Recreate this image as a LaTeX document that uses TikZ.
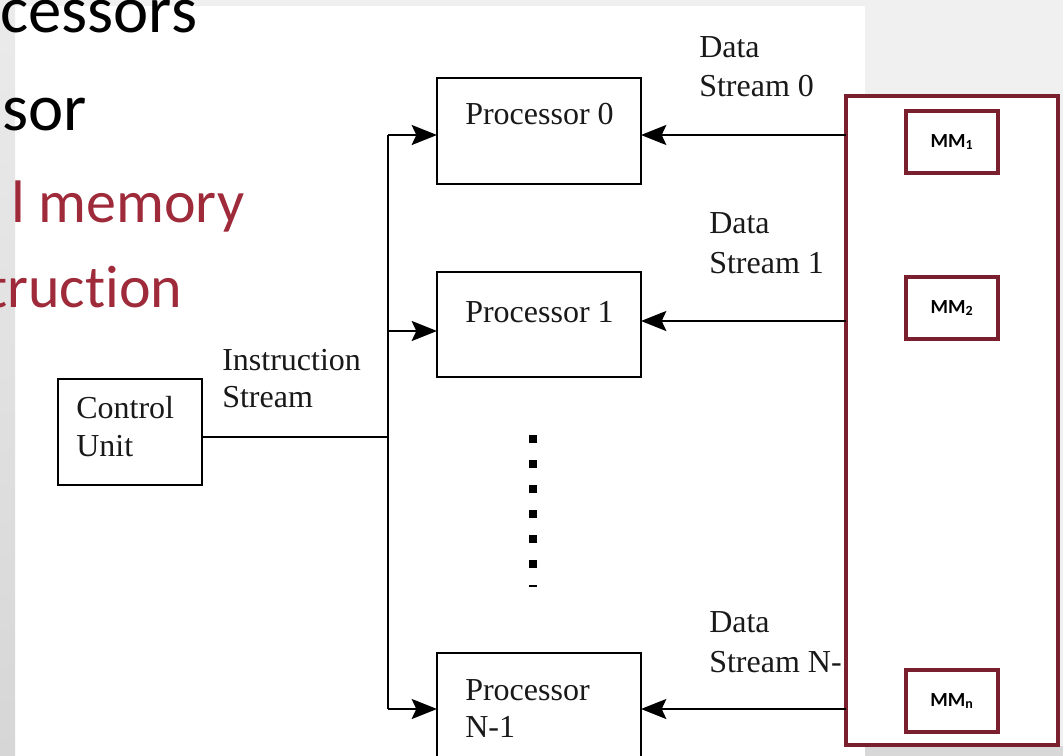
\documentclass[tikz,border=0pt]{standalone}
\usepackage{fontspec}
\setmainfont{Liberation Serif}
\newfontfamily\slidefont[Ligatures=NoCommon]{Carlito}
\usetikzlibrary{arrows.meta}
\definecolor{slidegray}{HTML}{F0F0F0}
\definecolor{stripTop}{HTML}{EBEBEB}
\definecolor{stripBot}{HTML}{D6D6D6}
\definecolor{shadowgray}{HTML}{D8D8D8}
\definecolor{slidered}{HTML}{9E2A3A}
\definecolor{memred}{HTML}{7A1F2D}
\begin{document}
\begin{tikzpicture}[x=0.75pt,y=-0.75pt,
  bigblack/.style={inner sep=0pt, anchor=base west, font=\slidefont\fontsize{50}{60}\selectfont, text=black},
  bigred/.style={inner sep=0pt, anchor=base west, font=\slidefont\fontsize{45}{54}\selectfont, text=slidered},
  lbl/.style={inner sep=0pt, anchor=base west, font=\fontsize{24}{29}\selectfont, text=black!90},
  blockbox/.style={draw=black, line width=1.5pt, inner sep=0pt, outer sep=0pt, anchor=north west, fill=white},
  membox/.style={draw=memred, line width=3pt, inner sep=0pt, outer sep=0pt, anchor=north west, fill=white},
  mmbox/.style={draw=memred, line width=2.4pt, inner sep=0pt, outer sep=0pt, fill=white, font=\slidefont\bfseries\fontsize{15}{18}\selectfont},
  wire/.style={line width=1.5pt, draw=black},
  arr/.style={wire, -{Stealth[length=19pt,width=15pt,inset=3.5pt]}},
  dotsq/.style={fill=black}
]
\useasboundingbox (0,0) rectangle (1063,756);
\clip (0,0) rectangle (1063,756);
% background
\fill[slidegray] (0,0) rectangle (1063,756);
\fill[white] (15,6) rectangle (865,756);
\shade[top color=stripTop, bottom color=stripBot] (0,0) rectangle (15,756);
\fill[shadowgray] (865,746) rectangle (1063,756);

% slide text
\node[bigblack] (s1) at (0,33) {cessors};
\node[bigblack] (s2) at (2,131) {sor};
\node[bigred] (s3) at (11,222) {l memory};
\node[bigred] (s4) at (-13,307) {truction};

% blocks
\node[blockbox, minimum width=108pt, minimum height=79.5pt] (cu) at (58,379) {};
\node[blockbox, minimum width=153pt, minimum height=79.5pt] (p0) at (437,78) {};
\node[blockbox, minimum width=153pt, minimum height=78.75pt] (p1) at (437,272) {};
\node[blockbox, minimum width=153pt, minimum height=95pt] (pn) at (437,653) {};

\node[lbl] (cut1) at (76,418) {Control};
\node[lbl] (cut2) at (76,456) {Unit};
\node[lbl] (p0t) at (465,125) {Processor 0};
\node[lbl] (p1t) at (465,322) {Processor 1};
\node[lbl] (pnt1) at (465,700) {Processor};
\node[lbl] (pnt2) at (465,737) {N-1};

\node[lbl] (is1) at (222,370) {Instruction};
\node[lbl] (is2) at (222,407) {Stream};
\node[lbl] (d01) at (699,58) {Data};
\node[lbl] (d02) at (699,97) {Stream 0};
\node[lbl] (d11) at (709,233) {Data};
\node[lbl] (d12) at (709,273) {Stream 1};
\node[lbl] (dn1) at (709,632) {Data};
\node[lbl] (dn2) at (709,672) {Stream N-};

% memory
\node[membox, minimum width=159pt, minimum height=486.75pt] (mem) at (846,96) {};
\node[mmbox, minimum width=69pt, minimum height=46.5pt] (mm1) at (952,142) {MM\textsubscript{1}};
\node[mmbox, minimum width=69pt, minimum height=46.5pt] (mm2) at (952,308) {MM\textsubscript{2}};
\node[mmbox, minimum width=69pt, minimum height=46.5pt] (mmn) at (952,701) {MM\textsubscript{n}};

% instruction bus
\coordinate (cuout) at (202,437);
\coordinate (busj) at (388,437);
\coordinate (bus0) at (388,135);
\coordinate (bus1) at (388,331);
\coordinate (busn) at (388,709);
\draw[wire] (cuout) -- (busj);
\draw[wire] (bus0) -- (busn);
\draw[arr] (bus0) -- (bus0 -| p0.west);
\draw[arr] (bus1) -- (bus1 -| p1.west);
\draw[arr] (busn) -- (busn -| pn.west);

% data streams
\coordinate (m0) at (846,135);
\coordinate (m1) at (846,321);
\coordinate (mn) at (846,709);
\draw[arr] (m0) -- (m0 -| p0.east);
\draw[arr] (m1) -- (m1 -| p1.east);
\draw[arr] (mn) -- (mn -| pn.east);

% vertical dots
\foreach \yy in {439,464,489,514,539,564} {
  \fill[dotsq] (529,\yy-4) rectangle (537,\yy+4);
}
\fill[dotsq] (529,585) rectangle (537,587);
\end{tikzpicture}
\end{document}
